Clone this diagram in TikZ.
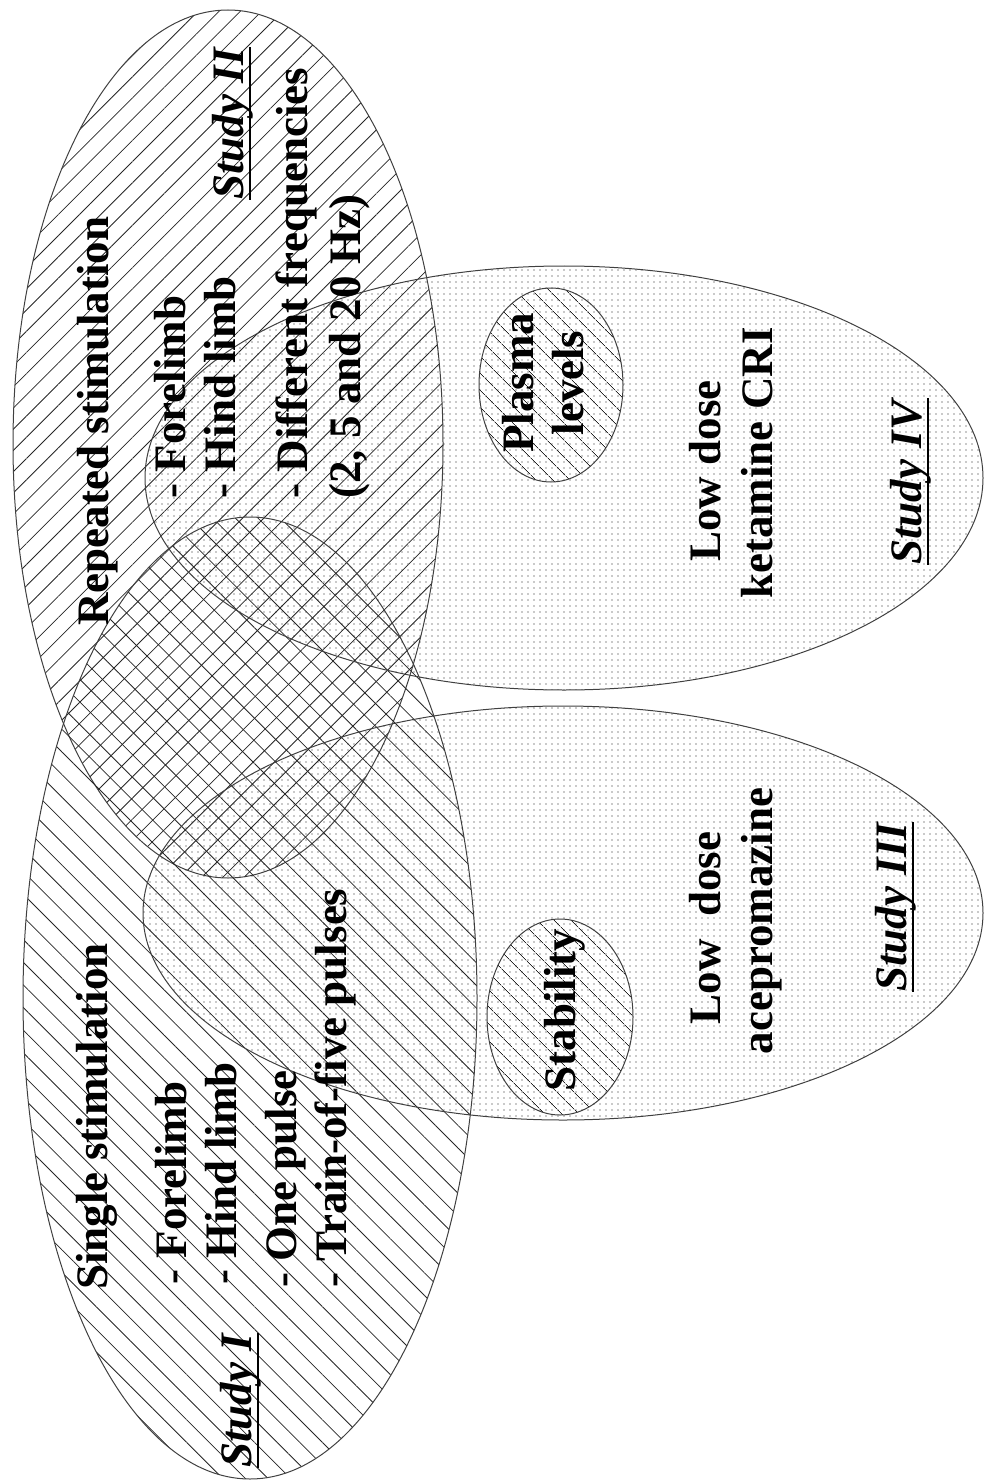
\documentclass[tikz,border=0pt]{standalone}
\usepackage{fontspec}
\setmainfont{Liberation Serif}
\usetikzlibrary{patterns.meta}
\newcommand{\studyline}[1]{\setbox0=\hbox{#1}\rlap{\rule[-4pt]{\wd0}{1pt}}\box0}

\tikzset{
  rim/.style={draw=black!75, line width=0.5pt},
  hatchI/.style={rim, pattern={Lines[angle=-45,distance=8pt,line width=0.4pt]}, pattern color=black!85},
  hatchII/.style={rim, pattern={Lines[angle=45,distance=7.5pt,line width=0.4pt]}, pattern color=black!85},
  hatchsmall/.style={rim, pattern={Lines[angle=-45,distance=6.5pt,line width=0.4pt]}, pattern color=black!85},
  dotfill/.style={rim, pattern={Dots[radius=0.3pt,distance=3pt]}, pattern color=black!90},
  txt/.style={rotate=90, inner sep=0pt, font=\fontsize{22.5}{27}\selectfont\bfseries},
}

\begin{document}
\begin{tikzpicture}[x=0.5pt,y=-0.5pt]
\useasboundingbox (0,0) rectangle (986,1482);

%Study II
\draw[hatchII] (228,444) ellipse [x radius=215, y radius=434];
%Study I
\draw[hatchI] (250,998) ellipse [x radius=227, y radius=481];
%Study IV
\draw[dotfill] (564,478) ellipse [x radius=419, y radius=212];
%Study III
\draw[dotfill] (563,913) ellipse [x radius=420, y radius=207];
%plasma and stability
\draw[hatchsmall] (551,385) ellipse [x radius=72, y radius=97];
\draw[hatchsmall] (560,1017) ellipse [x radius=73, y radius=98];

%repeated stimulation
\node[txt, anchor=base west] (repeated) at (108,626) {Repeated stimulation};
\node[txt, anchor=base west] (foreII) at (185,499) {- Forelimb};
\node[txt, anchor=base west] (hindII) at (235,499) {- Hind limb};
\node[txt, anchor=base west] (freq) at (307,499) {- Different frequencies};
\node[txt, anchor=base west] (hertz) at (360,499) {(2, 5 and 20 Hz)};
\node[txt, anchor=base west] (studyII) at (243,200) {\studyline{\textit{Study II}}};

%single stimulation
\node[txt, anchor=base west] (single) at (107,1290) {Single stimulation};
\node[txt, anchor=base west] (foreI) at (186,1285) {- Forelimb};
\node[txt, anchor=base west] (hindI) at (236,1285) {- Hind limb};
\node[txt, anchor=base west] (pulse) at (296,1288) {- One pulse};
\node[txt, anchor=base west] (train) at (346,1288) {- Train-of-five pulses};
\node[txt, anchor=base west] (studyI) at (251,1468) {\studyline{\textit{Study I}}};

%ketamine
\node[txt, anchor=base] (plasma) at (533,383) {Plasma};
\node[txt, anchor=base] (levels) at (583,383) {levels};
\node[txt, anchor=base] (lowIV) at (720,471) {Low dose};
\node[txt, anchor=base] (ketamine) at (772,463) {ketamine CRI};
\node[txt, anchor=base west] (studyIV) at (921,565) {\studyline{\textit{Study IV}}};

%acepromazine
\node[txt, anchor=base] (stability) at (575,1010) {Stability};
\node[txt, anchor=base] (lowIII) at (720,928) {Low\ \ dose};
\node[txt, anchor=base] (acep) at (772,921) {acepromazine};
\node[txt, anchor=base west] (studyIII) at (906,992) {\studyline{\textit{Study III}}};
\end{tikzpicture}
\end{document}
